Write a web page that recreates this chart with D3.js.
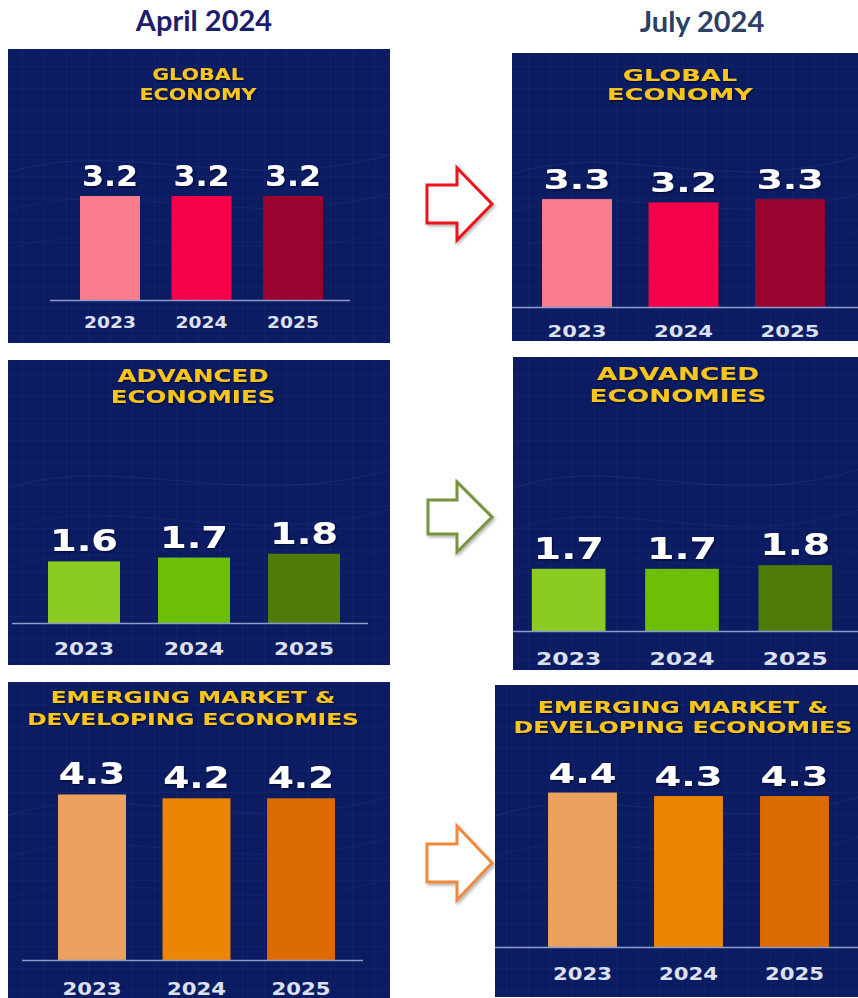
<!DOCTYPE html>
<html>
<head>
<meta charset="utf-8">
<script src="https://cdn.jsdelivr.net/npm/d3@7"></script>
<style>
  html, body { margin: 0; padding: 0; background: #ffffff; }
  svg { display: block; }
</style>
</head>
<body>
<svg id="chart" width="858" height="998"></svg>
<script>
// Growth forecasts (%) by region, two WEO editions
const years = ["2023", "2024", "2025"];
const editions = ["April 2024", "July 2024"];
const regionTitles = [
  ["GLOBAL", "ECONOMY"],
  ["ADVANCED", "ECONOMIES"],
  ["EMERGING MARKET &", "DEVELOPING ECONOMIES"]
];
const aprilValues = [
  [3.2, 3.2, 3.2],
  [1.6, 1.7, 1.8],
  [4.3, 4.2, 4.2]
];
const julyValues = [
  [3.3, 3.2, 3.3],
  [1.7, 1.7, 1.8],
  [4.4, 4.3, 4.3]
];
const barColors = [
  ["#f97b8c", "#f5004b", "#9a0431"],
  ["#8ccb22", "#6cbf04", "#4f7b08"],
  ["#eca25e", "#ec8404", "#dc6c02"]
];
const arrowColors = ["#e8141c", "#77933c", "#f0893a"];

// Panel geometry: one row per region, April then July
const panelLayout = [
  [
    {x0: 8, y0: 49, x1: 390, y1: 343, base: 300, line: [50, 350], band: [64.25, 338.75], pad: 0.344, ppu: 32.5,
     tx: 198, ty: [80, 100], ts: 16.5, tk: 1.25, vs: 27.5, vk: 1.15, ys: 16.5, yk: 1.13, yd: 28},
    {x0: 512, y0: 53, x1: 858, y1: 341, base: 307, line: [512, 858], band: [523.75, 843.25], pad: 0.343, ppu: 32.7,
     tx: 680, ty: [81, 100], ts: 16.5, tk: 1.56, vs: 27, vk: 1.4, ys: 16.5, yk: 1.28, yd: 30}
  ],
  [
    {x0: 8, y0: 360, x1: 390, y1: 665, base: 623, line: [12, 368], band: [29, 359], pad: 0.345, ppu: 38.5,
     tx: 193, ty: [382, 403], ts: 18, tk: 1.36, vs: 30, vk: 1.28, ys: 18, yk: 1.2, yd: 32},
    {x0: 513, y0: 357, x1: 858, y1: 670, base: 631, line: [513, 858], band: [512, 852], pad: 0.35, ppu: 36.6,
     tx: 678, ty: [380, 402], ts: 18, tk: 1.46, vs: 30, vk: 1.32, ys: 18, yk: 1.3, yd: 34}
  ],
  [
    {x0: 8, y0: 682, x1: 390, y1: 1000, base: 960, line: [22, 363], band: [39.75, 353.25], pad: 0.35, ppu: 38.5,
     tx: 193, ty: [703, 725], ts: 16.5, tk: 1.41, vs: 30, vk: 1.25, ys: 18, yk: 1.18, yd: 35},
    {x0: 495, y0: 685, x1: 858, y1: 997, base: 947, line: [495, 858], band: [529.5, 847.5], pad: 0.35, ppu: 35.1,
     tx: 683, ty: [713, 733], ts: 16.5, tk: 1.44, vs: 27, vk: 1.42, ys: 17, yk: 1.25, yd: 33}
  ]
];
const arrowLayout = [
  {x: 427, tipX: 492, headX: 457, mid: 204, shaft: 19, head: 36},
  {x: 428, tipX: 492, headX: 457, mid: 517, shaft: 17, head: 35},
  {x: 427, tipX: 492, headX: 457, mid: 863, shaft: 19, head: 37}
];
const headerX = [204, 702];
const headerColors = ["#1d1d6e", "#2c3f66"];

const svg = d3.select("#chart");
const defs = svg.append("defs");

// faint grid texture for the panel backgrounds
const pat = defs.append("pattern").attr("id", "grid")
  .attr("patternUnits", "userSpaceOnUse").attr("width", 22).attr("height", 22);
pat.append("path").attr("d", "M22 0 L0 0 0 22").attr("fill", "none")
  .attr("stroke", "#5a78c8").attr("stroke-opacity", 0.13).attr("stroke-width", 1);

const shadow = defs.append("filter").attr("id", "txtShadow")
  .attr("x", "-20%").attr("y", "-20%").attr("width", "140%").attr("height", "140%");
shadow.append("feDropShadow").attr("dx", 1).attr("dy", 1).attr("stdDeviation", 0.8)
  .attr("flood-color", "#000020").attr("flood-opacity", 0.8);

const glow = defs.append("filter").attr("id", "arrowGlow")
  .attr("x", "-30%").attr("y", "-30%").attr("width", "160%").attr("height", "160%");
glow.append("feDropShadow").attr("dx", 1.5).attr("dy", 2).attr("stdDeviation", 1.8)
  .attr("flood-color", "#000000").attr("flood-opacity", 0.3);

// stretch a text element horizontally by factor k
function stretch(sel, k) {
  sel.each(function () {
    const w = this.getComputedTextLength();
    d3.select(this).attr("textLength", w * k).attr("lengthAdjust", "spacingAndGlyphs");
  });
}

// column headers
svg.selectAll("text.header").data(editions).join("text")
  .attr("class", "header")
  .attr("x", (d, i) => headerX[i])
  .attr("y", (d, i) => 31 + i)
  .attr("text-anchor", "middle")
  .attr("font-family", "Lato, 'Open Sans', sans-serif")
  .attr("font-weight", 700)
  .attr("font-size", 29)
  .attr("fill", (d, i) => headerColors[i])
  .text(d => d);

const valueSets = [aprilValues, julyValues];

regionTitles.forEach((title, r) => {
  [0, 1].forEach(e => {
    const L = panelLayout[r][e];
    const vals = valueSets[e][r];
    const g = svg.append("g");
    const clipId = `clip-${r}-${e}`;
    defs.append("clipPath").attr("id", clipId).append("rect")
      .attr("x", L.x0).attr("y", L.y0).attr("width", L.x1 - L.x0).attr("height", L.y1 - L.y0);

    const bg = g.append("g").attr("clip-path", `url(#${clipId})`);
    bg.append("rect").attr("x", L.x0).attr("y", L.y0)
      .attr("width", L.x1 - L.x0).attr("height", L.y1 - L.y0).attr("fill", "#0b1c62");
    bg.append("rect").attr("x", L.x0).attr("y", L.y0)
      .attr("width", L.x1 - L.x0).attr("height", L.y1 - L.y0).attr("fill", "url(#grid)");
    // soft light streaks across the backdrop
    const h = L.y1 - L.y0, w = L.x1 - L.x0;
    [0.42, 0.55, 0.68].forEach((f, k) => {
      bg.append("path")
        .attr("d", `M${L.x0} ${L.y0 + h * f} C${L.x0 + w * 0.3} ${L.y0 + h * (f - 0.12)} ${L.x0 + w * 0.6} ${L.y0 + h * (f + 0.08)} ${L.x1} ${L.y0 + h * (f - 0.06)}`)
        .attr("fill", "none").attr("stroke", "#6f8fe0")
        .attr("stroke-opacity", 0.10 - k * 0.02).attr("stroke-width", 1.2);
    });

    const x = d3.scaleBand().domain(years).range(L.band)
      .paddingInner(L.pad).paddingOuter(L.pad / 2);
    const y = d3.scaleLinear().domain([0, 5]).range([L.base, L.base - 5 * L.ppu]);

    // bars
    g.selectAll("rect.bar").data(vals).join("rect")
      .attr("class", "bar")
      .attr("x", (d, i) => x(years[i]))
      .attr("width", x.bandwidth())
      .attr("y", d => y(d))
      .attr("height", d => y(0) - y(d))
      .attr("fill", (d, i) => barColors[r][i]);

    // baseline
    g.append("line")
      .attr("x1", L.line[0]).attr("x2", L.line[1])
      .attr("y1", y(0) + 0.5).attr("y2", y(0) + 0.5)
      .attr("stroke", "#8d9cc9").attr("stroke-width", 1.5);

    // value labels
    g.selectAll("text.val").data(vals).join("text")
      .attr("class", "val")
      .attr("x", (d, i) => x(years[i]) + x.bandwidth() / 2)
      .attr("y", d => y(d) - 10)
      .attr("text-anchor", "middle")
      .attr("font-family", "'DejaVu Sans', sans-serif")
      .attr("font-weight", 700)
      .attr("font-size", L.vs)
      .attr("fill", "#ffffff")
      .attr("filter", "url(#txtShadow)")
      .text(d => d.toFixed(1))
      .call(stretch, L.vk);

    // year labels
    g.selectAll("text.yr").data(years).join("text")
      .attr("class", "yr")
      .attr("x", d => x(d) + x.bandwidth() / 2)
      .attr("y", y(0) + L.yd)
      .attr("text-anchor", "middle")
      .attr("font-family", "'DejaVu Sans', sans-serif")
      .attr("font-weight", 700)
      .attr("font-size", L.ys)
      .attr("fill", "#dde0ee")
      .text(d => d)
      .call(stretch, L.yk);

    // region title
    g.selectAll("text.title").data(title).join("text")
      .attr("class", "title")
      .attr("x", L.tx)
      .attr("y", (d, i) => L.ty[i])
      .attr("text-anchor", "middle")
      .attr("font-family", "'DejaVu Sans', sans-serif")
      .attr("font-weight", 700)
      .attr("font-size", L.ts)
      .attr("fill", "#f7c51e")
      .attr("filter", "url(#txtShadow)")
      .text(d => d)
      .call(stretch, L.tk);
  });

  // outlined arrow between the two editions
  const A = arrowLayout[r];
  const pts = [
    [A.x, A.mid - A.shaft], [A.headX, A.mid - A.shaft], [A.headX, A.mid - A.head],
    [A.tipX, A.mid], [A.headX, A.mid + A.head], [A.headX, A.mid + A.shaft], [A.x, A.mid + A.shaft]
  ];
  svg.append("path")
    .attr("d", d3.line()(pts) + "Z")
    .attr("fill", "#ffffff")
    .attr("stroke", arrowColors[r])
    .attr("stroke-width", 3)
    .attr("stroke-linejoin", "miter")
    .attr("filter", "url(#arrowGlow)");
});
</script>
</body>
</html>
